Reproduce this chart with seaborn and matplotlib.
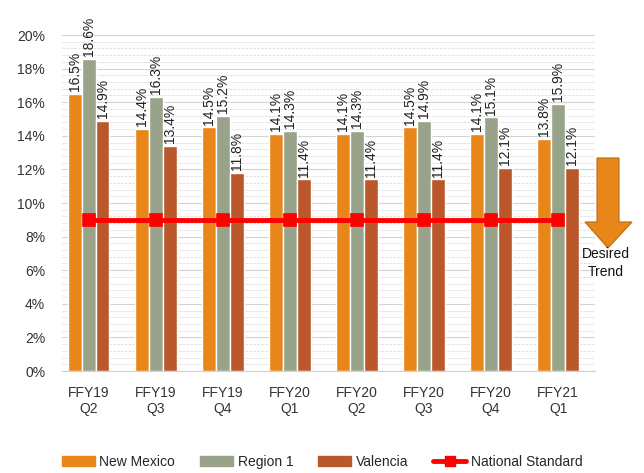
import matplotlib
matplotlib.use("Agg")
import matplotlib.pyplot as plt
import seaborn as sns
import pandas as pd
from matplotlib.patches import Patch, Polygon
from matplotlib.lines import Line2D
from matplotlib.ticker import MultipleLocator, FuncFormatter

categories = ["FFY19\nQ2", "FFY19\nQ3", "FFY19\nQ4", "FFY20\nQ1", "FFY20\nQ2", "FFY20\nQ3", "FFY20\nQ4", "FFY21\nQ1"]
new_mexico = [16.5, 14.4, 14.5, 14.1, 14.1, 14.5, 14.1, 13.8]
region_1 = [18.6, 16.3, 15.2, 14.3, 14.3, 14.9, 15.1, 15.9]
valencia = [14.9, 13.4, 11.8, 11.4, 11.4, 11.4, 12.1, 12.1]
national_standard = [9.0] * 8
series_names = ["New Mexico", "Region 1", "Valencia"]
colors = ["#E8861A", "#98A38A", "#BA582C"]

sns.set_style("white")
plt.rcParams["font.family"] = ["Liberation Sans", "DejaVu Sans"]

df = pd.DataFrame({
    "cat": categories * 3,
    "val": new_mexico + region_1 + valencia,
    "series": [series_names[0]] * 8 + [series_names[1]] * 8 + [series_names[2]] * 8,
})

fig = plt.figure(figsize=(6.44, 4.73), dpi=100)
ax = fig.add_axes([0.096, 0.2156, 0.828, 0.7104])

sns.barplot(data=df, x="cat", y="val", hue="series", palette=colors,
            width=0.62, gap=0, ax=ax, legend=False, saturation=1)

for cont in ax.containers:
    ax.bar_label(cont, labels=[f"{v:.1f}%" for v in cont.datavalues],
                 rotation=90, padding=2, fontsize=10, color="#222222")

sns.pointplot(x=categories, y=national_standard, color="#FF0000", marker="s",
              markersize=7.5, linewidth=3.5, ax=ax, zorder=5)

ax.set_ylim(0, 20)
ax.set_xlim(-0.4, 7.55)
ax.yaxis.set_major_locator(MultipleLocator(2))
ax.yaxis.set_minor_locator(MultipleLocator(0.4))
ax.yaxis.set_major_formatter(FuncFormatter(lambda v, p: f"{v:.0f}%"))
ax.grid(which="major", axis="y", color="#D4D4D4", linewidth=0.8)
ax.grid(which="minor", axis="y", color="#E4E4E4", linewidth=0.7, linestyle=(0, (3, 1)))
ax.set_axisbelow(True)
for s in ["top", "right", "left"]:
    ax.spines[s].set_visible(False)
ax.spines["bottom"].set_color("#D0D0D0")
ax.tick_params(axis="both", which="both", length=0, labelsize=10, colors="#333333")
ax.tick_params(axis="x", pad=11)
ax.tick_params(axis="y", pad=12)
ax.set_xlabel("")
ax.set_ylabel("")

# Desired trend arrow (figure pixel coords, top-left origin)
W, H = 644, 473
pts = [(597, 158), (619, 158), (619, 222), (632, 222), (608, 248), (585, 222), (597, 222)]
arrow = Polygon([(x / W, 1 - y / H) for x, y in pts], closed=True,
                transform=fig.transFigure, facecolor="#E8861A", edgecolor="#B86A10", linewidth=0.8)
fig.patches.append(arrow)
fig.text(606 / W, 1 - 263 / H, "Desired\nTrend", ha="center", va="center", fontsize=10,
         linespacing=1.4, color="#111111")

handles = [Patch(facecolor=c, edgecolor=c) for c in colors]
handles.append(Line2D([0], [0], color="#FF0000", lw=3.5, marker="s", markersize=7))
fig.legend(handles, series_names + ["National Standard"], loc="center",
           bbox_to_anchor=(0.5, 1 - 462 / H), ncol=4, frameon=False, fontsize=10,
           handlelength=2.4, handleheight=0.7, columnspacing=1.8, handletextpad=0.3)

fig.savefig("out.png", dpi=100)
